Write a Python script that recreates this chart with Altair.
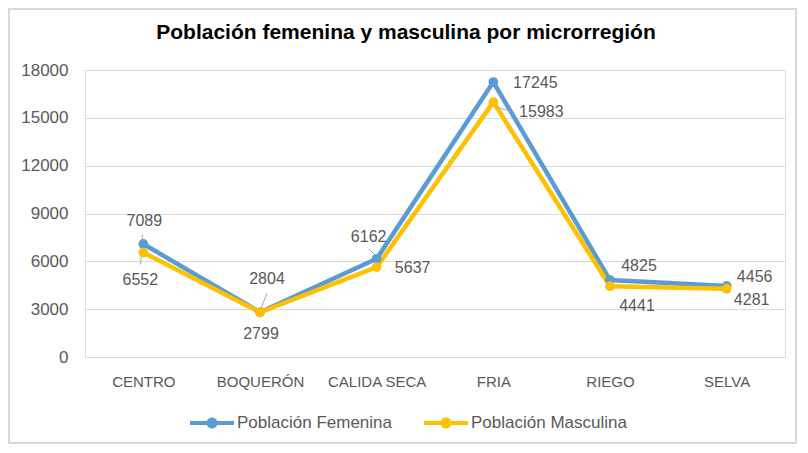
import altair as alt
import pandas as pd

regiones = ["CENTRO", "BOQUERÓN", "CALIDA SECA", "FRIA", "RIEGO", "SELVA"]
femenina = [7089, 2804, 6162, 17245, 4825, 4456]
masculina = [6552, 2799, 5637, 15983, 4441, 4281]
series = ["Población Femenina", "Población Masculina"]
y_ticks = [0, 3000, 6000, 9000, 12000, 15000, 18000]
colores = ["#5B9BD5", "#FFC000"]
titulo = "Población femenina y masculina por microrregión"

rows = []
for i, (r, f, m) in enumerate(zip(regiones, femenina, masculina)):
    rows.append({"region": r, "serie": series[0], "valor": f, "orden": i})
    rows.append({"region": r, "serie": series[1], "valor": m, "orden": i})
df = pd.DataFrame(rows)

# label placement (pixel offsets from the point), styling only
label_pos = {
    (series[0], "CENTRO"): (1, -23),
    (series[0], "BOQUERÓN"): (7, -33),
    (series[0], "CALIDA SECA"): (-8, -22),
    (series[0], "FRIA"): (42, 1),
    (series[0], "RIEGO"): (29, -14),
    (series[0], "SELVA"): (28, -9),
    (series[1], "CENTRO"): (-3, 27),
    (series[1], "BOQUERÓN"): (1, 22),
    (series[1], "CALIDA SECA"): (36, 1),
    (series[1], "FRIA"): (48, 10),
    (series[1], "RIEGO"): (27, 20),
    (series[1], "SELVA"): (25, 11),
}
leaders = {
    (series[0], "CENTRO"): (-1, -9, -1, -5),
    (series[1], "CENTRO"): (-2, 4, -3, 12),
    (series[0], "BOQUERÓN"): (1, -4, 7, -19),
    (series[0], "CALIDA SECA"): (-8, -10, -2, -4),
    (series[1], "FRIA"): (3, 5, 17, 9),
}

W, H = 700, 287
FONT = "Liberation Sans"
GRAY = "#595959"

x_enc = alt.X("region:N", sort=regiones,
              scale=alt.Scale(type="point", domain=regiones, padding=0.5),
              axis=alt.Axis(title=None, labelAngle=0, domain=False, ticks=False,
                            grid=False, labelPadding=17, labelFontSize=15,
                            labelColor=GRAY, labelFont=FONT))
y_enc = alt.Y("valor:Q", scale=alt.Scale(domain=[0, 18000], nice=False),
              axis=alt.Axis(title=None, values=y_ticks, format="d", domain=False,
                            ticks=False, grid=True, gridColor="#D9D9D9", gridWidth=1,
                            labelPadding=17, labelFontSize=17, labelColor=GRAY,
                            labelFont=FONT))

base = alt.Chart(df)

lines = base.mark_line(strokeWidth=4.5).encode(
    x=x_enc, y=y_enc,
    stroke=alt.Stroke("serie:N", scale=alt.Scale(domain=series, range=colores),
                      legend=None),
    order=alt.Order("orden:Q"),
    detail="serie:N",
)

sym = ("M-1,-0.09L1,-0.09L1,0.09L-1,0.09Z "
       "M0.25,0A0.25,0.25 0 1,1 -0.25,0A0.25,0.25 0 1,1 0.25,0Z")

points = base.mark_circle(size=95, opacity=1).encode(
    x=x_enc, y=y_enc,
    color=alt.Color("serie:N", scale=alt.Scale(domain=series, range=colores),
                    legend=alt.Legend(title=None, orient="none", legendX=105,
                                      legendY=331, direction="horizontal",
                                      symbolType=sym, symbolSize=1936,
                                      symbolStrokeWidth=0, symbolOpacity=1,
                                      labelFontSize=17, labelColor=GRAY,
                                      labelFont=FONT, labelOffset=3,
                                      columnPadding=32, padding=0)),
)

layers = [lines, points]

for (s, r), (a, b, c, d) in leaders.items():
    layers.append(
        base.transform_filter((alt.datum.serie == s) & (alt.datum.region == r))
        .mark_rule(color="#A6A6A6", strokeWidth=1,
                   xOffset=a, yOffset=b, x2Offset=c, y2Offset=d)
        .encode(x=x_enc, x2=alt.X2("region"), y=y_enc, y2=alt.Y2("valor"))
    )

for (s, r), (dx, dy) in label_pos.items():
    layers.append(
        base.transform_filter((alt.datum.serie == s) & (alt.datum.region == r))
        .mark_text(dx=dx, dy=dy, font=FONT, fontSize=16, color=GRAY,
                   baseline="middle", align="center")
        .encode(x=x_enc, y=y_enc, text=alt.Text("valor:Q", format="d"))
    )

border = alt.Chart(pd.DataFrame({"k": [0]})).mark_rect(
    filled=False, stroke="#D9D9D9", strokeWidth=2
).encode(x=alt.value(-76), x2=alt.value(W + 11), y=alt.value(-61), y2=alt.value(H + 86))

chart = alt.layer(*layers, border).properties(
    width=W, height=H,
    title=alt.TitleParams(titulo, font=FONT, fontSize=21, fontWeight="bold",
                          color="#000000", anchor="middle", frame="group", dx=-29,
                          baseline="middle", offset=-46),
    autosize=alt.AutoSizeParams(type="none"),
    padding={"left": 77, "top": 62, "right": 13, "bottom": 88},
).resolve_legend(color="independent", stroke="independent") \
 .configure_view(stroke=None).configure(background="white")

chart.save("out.html", embed_options={"renderer": "svg", "actions": False})
